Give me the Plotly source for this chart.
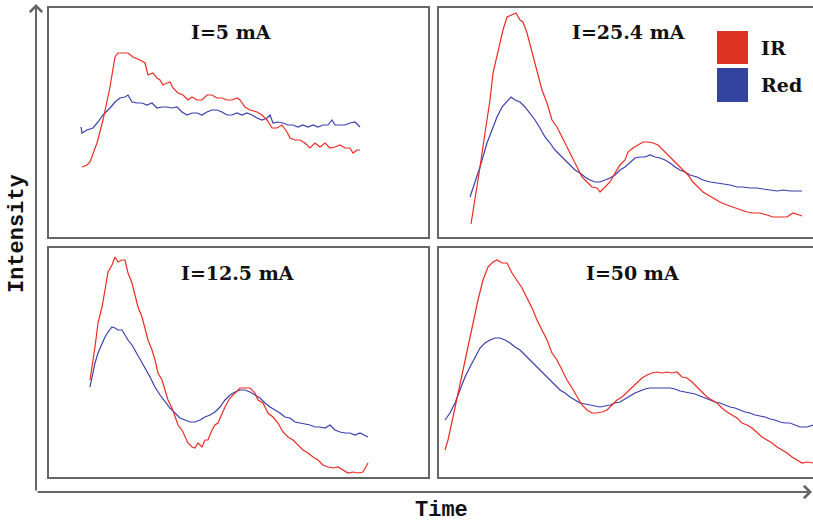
import plotly.graph_objects as go

# ---------------- data (time in arbitrary units, intensity in arbitrary units) ----------------
panel_titles = ["I=5 mA", "I=25.4 mA", "I=12.5 mA", "I=50 mA"]
series_names = ["IR", "Red"]

# I = 5 mA
t_ir_5 = [33, 38, 41, 48, 54, 61, 66, 69, 74, 79, 84, 91, 96, 99, 104, 108, 111, 114, 118, 121, 124, 129, 134,
          139, 143, 148, 153, 158, 163, 168, 173, 178, 183, 188, 191, 196, 201, 208, 213, 218, 223, 228, 233,
          238, 241, 246, 251, 256, 261, 266, 271, 276, 281, 286, 291, 296, 301, 304, 308, 311]
v_ir_5 = [70, 72, 75, 94, 117, 150, 180, 184, 184, 184, 180, 177, 174, 162, 164, 159, 157, 152, 154, 155, 149,
          144, 142, 137, 140, 137, 137, 142, 142, 139, 139, 137, 137, 139, 137, 130, 127, 125, 122, 117, 109,
          109, 112, 105, 99, 97, 97, 94, 89, 94, 90, 94, 89, 90, 92, 89, 89, 84, 87, 87]
t_red_5 = [32, 33, 38, 44, 49, 54, 61, 66, 71, 76, 79, 83, 88, 93, 98, 103, 108, 113, 118, 123, 128, 133, 138,
           143, 148, 153, 158, 163, 168, 173, 178, 183, 188, 193, 198, 203, 208, 213, 218, 221, 224, 229, 234,
           239, 244, 249, 254, 259, 264, 269, 274, 279, 283, 286, 291, 296, 301, 306, 311]
v_red_5 = [110, 104, 107, 109, 115, 122, 129, 135, 139, 140, 142, 135, 134, 134, 132, 134, 129, 130, 130, 129,
           130, 125, 122, 124, 124, 122, 125, 127, 127, 125, 122, 122, 124, 122, 124, 122, 119, 117, 119, 122,
           114, 115, 114, 112, 112, 110, 112, 110, 112, 110, 112, 112, 117, 112, 112, 112, 114, 115, 110]

# I = 25.4 mA
t_ir_25 = [32, 36, 41, 46, 51, 54, 59, 64, 68, 73, 77, 81, 84, 88, 93, 98, 103, 108, 113, 118, 123, 128, 133,
           138, 143, 148, 153, 158, 161, 166, 171, 176, 181, 186, 189, 194, 199, 204, 209, 214, 219, 224, 229,
           234, 239, 244, 249, 254, 259, 264, 269, 274, 281, 288, 294, 301, 308, 314, 321, 328, 334, 341, 348,
           354, 363]
v_ir_25 = [13, 37, 70, 104, 137, 164, 187, 207, 220, 222, 224, 217, 215, 204, 184, 164, 147, 134, 117, 110,
           100, 90, 80, 70, 60, 55, 50, 49, 45, 50, 55, 64, 72, 77, 85, 89, 92, 95, 95, 94, 92, 87, 82, 77, 72,
           67, 62, 55, 50, 45, 42, 39, 35, 32, 30, 27, 25, 24, 24, 22, 20, 20, 20, 24, 21]
t_red_25 = [31, 36, 41, 48, 53, 58, 63, 68, 72, 76, 81, 86, 91, 96, 101, 106, 111, 116, 121, 126, 131, 136,
            141, 146, 151, 156, 161, 166, 171, 176, 181, 186, 191, 196, 201, 206, 211, 216, 221, 226, 231, 236,
            241, 246, 251, 258, 264, 271, 278, 284, 291, 298, 304, 311, 318, 324, 331, 338, 344, 351, 363]
v_red_25 = [40, 54, 70, 94, 107, 120, 130, 135, 140, 137, 135, 130, 124, 117, 109, 100, 94, 87, 82, 77, 72,
            67, 64, 60, 57, 55, 55, 57, 59, 62, 67, 70, 75, 79, 80, 80, 82, 80, 79, 77, 74, 70, 67, 65, 62, 60,
            57, 55, 54, 53, 52, 50, 50, 49, 49, 48, 47, 46, 47, 46, 46]

# I = 12.5 mA
t_ir_12 = [41, 43, 46, 49, 53, 56, 59, 63, 66, 69, 73, 76, 79, 83, 86, 89, 93, 96, 99, 103, 106, 109, 113,
           116, 119, 123, 126, 129, 133, 136, 139, 143, 146, 149, 153, 156, 159, 163, 166, 169, 173, 176, 181,
           186, 191, 196, 201, 206, 209, 214, 219, 224, 229, 234, 239, 244, 249, 254, 259, 264, 269, 274, 279,
           284, 289, 294, 299, 304, 309, 314, 319]
v_ir_12 = [97, 110, 130, 154, 170, 187, 205, 212, 220, 215, 217, 217, 204, 194, 182, 170, 160, 147, 137, 127,
           117, 104, 97, 87, 77, 69, 60, 52, 47, 40, 34, 30, 29, 34, 30, 37, 37, 47, 52, 54, 64, 70, 79, 84,
           89, 89, 89, 84, 77, 74, 64, 60, 54, 45, 40, 37, 32, 27, 24, 20, 17, 12, 10, 9, 10, 7, 4, 5, 4, 5, 14]
t_red_12 = [41, 43, 46, 49, 53, 56, 59, 63, 66, 69, 73, 76, 79, 83, 86, 89, 93, 96, 101, 106, 111, 116, 121,
            126, 131, 136, 141, 146, 151, 156, 161, 166, 171, 176, 181, 186, 191, 196, 201, 206, 211, 216, 221,
            226, 231, 236, 241, 246, 251, 256, 261, 266, 271, 276, 281, 286, 291, 296, 301, 306, 311, 319]
v_red_12 = [90, 100, 114, 124, 134, 140, 145, 150, 149, 147, 147, 142, 137, 132, 127, 122, 115, 109, 100, 90,
            82, 75, 69, 64, 59, 57, 55, 55, 57, 60, 62, 65, 70, 77, 82, 85, 87, 87, 85, 82, 79, 74, 70, 67, 64,
            60, 59, 55, 54, 53, 52, 50, 50, 49, 52, 47, 45, 44, 44, 42, 44, 40]

# I = 50 mA
t_ir_50 = [6, 9, 14, 19, 24, 29, 34, 39, 44, 49, 54, 58, 63, 68, 73, 78, 83, 88, 93, 98, 103, 108, 113, 118,
           123, 128, 133, 138, 143, 148, 153, 158, 163, 168, 173, 178, 183, 188, 193, 198, 203, 208, 213, 218,
           223, 228, 233, 238, 243, 248, 253, 258, 263, 268, 273, 278, 283, 288, 293, 298, 303, 308, 313, 318,
           323, 328, 333, 338, 343, 348, 353, 358, 363, 368, 374]
v_ir_50 = [27, 37, 60, 84, 107, 130, 154, 177, 197, 210, 215, 217, 214, 214, 204, 197, 189, 179, 169, 157,
           147, 137, 124, 117, 107, 97, 89, 80, 72, 67, 64, 64, 65, 67, 72, 77, 80, 85, 90, 95, 99, 102, 104,
           105, 104, 105, 104, 105, 100, 99, 95, 90, 85, 80, 77, 74, 69, 65, 62, 59, 54, 52, 49, 44, 40, 37,
           34, 30, 27, 24, 20, 17, 14, 15, 14]
t_red_50 = [6, 11, 16, 21, 26, 31, 36, 41, 46, 51, 56, 61, 66, 71, 76, 81, 86, 91, 96, 101, 106, 111, 116,
            121, 126, 131, 136, 141, 146, 151, 156, 161, 166, 171, 176, 181, 186, 191, 196, 201, 206, 211, 216,
            221, 226, 231, 236, 241, 246, 251, 256, 261, 266, 271, 276, 281, 286, 291, 296, 301, 306, 311, 316,
            321, 326, 331, 336, 341, 346, 351, 356, 361, 368, 374]
v_red_50 = [57, 64, 74, 87, 100, 110, 120, 129, 134, 137, 139, 139, 137, 134, 130, 127, 122, 117, 112, 107,
            102, 97, 92, 87, 84, 80, 77, 74, 73, 72, 71, 70, 71, 72, 74, 75, 78, 81, 84, 86, 88, 89, 89, 89, 89,
            89, 88, 86, 85, 84, 83, 81, 79, 77, 75, 74, 72, 70, 69, 67, 65, 64, 62, 61, 60, 58, 57, 55, 54, 54,
            52, 50, 50, 52]

panels = [
    (t_ir_5, v_ir_5, t_red_5, v_red_5),
    (t_ir_25, v_ir_25, t_red_25, v_red_25),
    (t_ir_12, v_ir_12, t_red_12, v_red_12),
    (t_ir_50, v_ir_50, t_red_50, v_red_50),
]

# ---------------- styling ----------------
W, H = 813, 525
IR_COLOR = "#ee2a24"
RED_COLOR = "#3b3fae"
BOX = "#666666"
TITLE_FONT = "DejaVu Serif"
AXIS_FONT = "Liberation Mono"

def px(x):
    return x / W

def py(y):
    return 1 - y / H

xdoms = [[px(49), px(428)], [px(439), 1.0]]
ydoms = [[py(237), py(8)], [py(477), py(248)]]
xranges = [[0, 379], [0, 374]]

fig = go.Figure()
layout = dict(width=W, height=H, margin=dict(l=0, r=0, t=0, b=0),
              paper_bgcolor="white", plot_bgcolor="white", showlegend=False)

for i, (tir, vir, tred, vred) in enumerate(panels):
    row, col = divmod(i, 2)
    n = i + 1
    xa = "x" if n == 1 else f"x{n}"
    ya = "y" if n == 1 else f"y{n}"
    fig.add_trace(go.Scatter(x=tred, y=vred, mode="lines", name=series_names[1],
                             line=dict(color=RED_COLOR, width=1.2), xaxis=xa, yaxis=ya))
    fig.add_trace(go.Scatter(x=tir, y=vir, mode="lines", name=series_names[0],
                             line=dict(color=IR_COLOR, width=1.2), xaxis=xa, yaxis=ya))
    xkey = "xaxis" if n == 1 else f"xaxis{n}"
    ykey = "yaxis" if n == 1 else f"yaxis{n}"
    layout[xkey] = dict(domain=xdoms[col], range=xranges[col], anchor=ya,
                        showgrid=False, zeroline=False, showticklabels=False, ticks="",
                        showline=True, linecolor=BOX, linewidth=2, mirror=True)
    layout[ykey] = dict(domain=ydoms[row], range=[0, 229], anchor=xa,
                        showgrid=False, zeroline=False, showticklabels=False, ticks="",
                        showline=True, linecolor=BOX, linewidth=2, mirror=(col == 0))

fig.update_layout(**layout)

annotations = []
title_pos = [(231, 32), (628, 32), (238, 273), (632, 273)]
for (tx, ty), txt in zip(title_pos, panel_titles):
    annotations.append(dict(text=f"<b>{txt}</b>", x=px(tx), y=py(ty), xref="paper", yref="paper",
                            showarrow=False, xanchor="center", yanchor="middle",
                            font=dict(family=TITLE_FONT, size=19, color="#111111")))

# outer axes with arrows
annotations.append(dict(x=px(36), y=py(4), xref="paper", yref="paper", ax=0, ay=488,
                        axref="pixel", ayref="pixel", showarrow=True, arrowhead=4, arrowsize=1.2,
                        arrowwidth=2, arrowcolor=BOX, text=""))
annotations.append(dict(x=px(812), y=py(492), xref="paper", yref="paper", ax=-776, ay=0,
                        axref="pixel", ayref="pixel", showarrow=True, arrowhead=4, arrowsize=1.2,
                        arrowwidth=2, arrowcolor=BOX, text=""))
annotations.append(dict(text="<b>Intensity</b>", x=px(17), y=py(234), xref="paper", yref="paper",
                        showarrow=False, textangle=-90, xanchor="center", yanchor="middle",
                        font=dict(family=AXIS_FONT, size=22, color="#111111")))
annotations.append(dict(text="<b>Time</b>", x=px(442), y=py(510), xref="paper", yref="paper",
                        showarrow=False, xanchor="center", yanchor="middle",
                        font=dict(family=AXIS_FONT, size=22, color="#111111")))

# legend (custom squares)
legend_items = [("IR", "#dd3322", 31, 64), ("Red", "#3344a0", 68, 102)]
shapes = []
for name, colr, y0, y1 in legend_items:
    shapes.append(dict(type="rect", xref="paper", yref="paper", x0=px(717), x1=px(748),
                       y0=py(y1), y1=py(y0), fillcolor=colr, line=dict(width=0)))
    annotations.append(dict(text=f"<b>{name}</b>", x=px(759), y=py((y0 + y1) / 2), xref="paper",
                            yref="paper", showarrow=False, xanchor="left", yanchor="middle",
                            font=dict(family=TITLE_FONT, size=19, color="#111111")))

fig.update_layout(annotations=annotations, shapes=shapes)
fig.write_html("out.html", config={"displayModeBar": False},
               post_script="document.body.style.margin='0';document.body.style.overflow='hidden';")
